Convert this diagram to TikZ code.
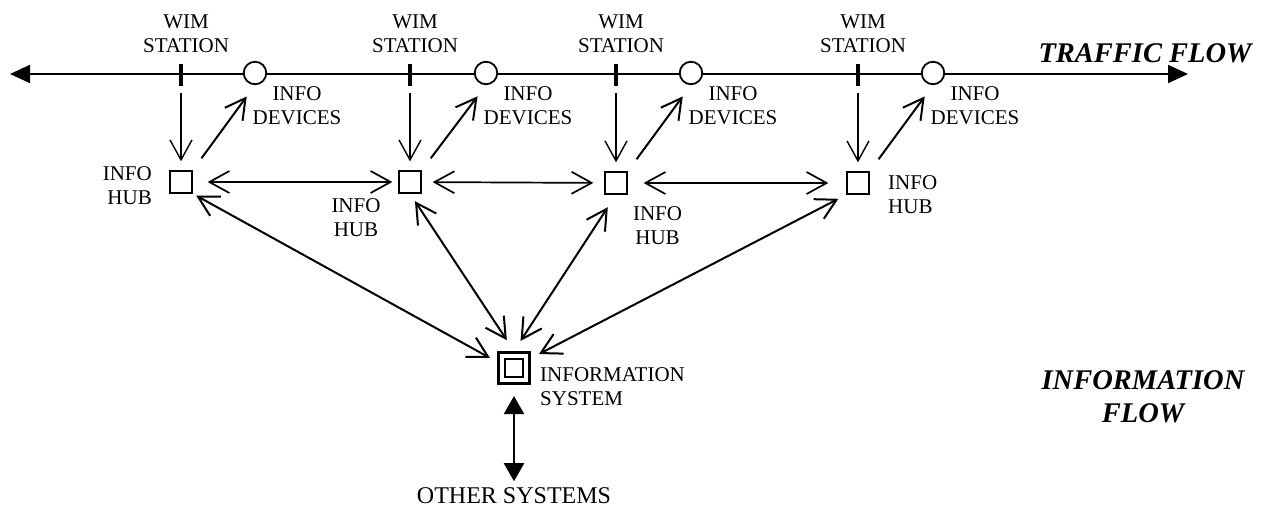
\documentclass[tikz,border=0pt]{standalone}
\usepackage{fontspec}
\setmainfont{Liberation Serif}
\usetikzlibrary{arrows.meta}

\begin{document}
\begin{tikzpicture}[x=1pt,y=-1pt,
  lbl/.style={font=\fontsize{21}{24}\selectfont, align=center, inner sep=0pt},
  bigit/.style={font=\fontsize{28.5}{33}\selectfont\bfseries\itshape, align=center, inner sep=0pt},
  hub/.style={draw, line width=1.8pt, minimum size=21.5pt, inner sep=0pt},
  dev/.style={draw, circle, line width=1.8pt, minimum size=22.5pt, inner sep=0pt, fill=white},
  wimbar/.style={fill, minimum width=4.5pt, minimum height=22pt, inner sep=0pt},
  road/.style={line width=1.8pt, {Triangle[length=20pt,width=18pt]}-{Triangle[length=20pt,width=18pt]}},
  feed/.style={line width=1.4pt, -{Straight Barb[length=20pt,width=22pt]}},
  push/.style={line width=2pt, -{Straight Barb[length=20pt,width=22pt]}},
  link/.style={line width=1.7pt, {Straight Barb[length=20pt,width=22pt]}-{Straight Barb[length=20pt,width=22pt]}},
  syslink/.style={line width=2pt, {Straight Barb[length=20pt,width=22pt]}-{Straight Barb[length=20pt,width=22pt]}},
  outlink/.style={line width=2pt, {Triangle[length=18pt,width=20pt]}-{Triangle[length=18pt,width=20pt]}}
]
\useasboundingbox (0,0) rectangle (1263,515);

% roadway with traffic direction
\coordinate (roadL) at (10,74);
\coordinate (roadR) at (1188,74);
\draw[road] (roadL) -- (roadR);
\node[bigit, anchor=base] (traffic) at (1145,62) {TRAFFIC FLOW};

% WIM stations, info devices and info hubs
\foreach \i/\s/\c/\hy in {1/181/255/182, 2/410/486/182, 3/616/691/183, 4/858/933/183}{
  \node[wimbar] (w\i) at (\s,75) {};
  \node[lbl] (wl\i) at (\s+5,33.5) {WIM\\STATION};
  \node[dev] (c\i) at (\c,73) {};
  \node[lbl] (cl\i) at (\c+42,106) {INFO\\DEVICES};
  \node[hub] (h\i) at (\s,\hy) {};
  \draw[feed, shorten <=7pt, shorten >=9pt] (w\i.south) -- (h\i.north);
  \draw[push, shorten <=15pt, shorten >=14pt] (h\i.north east) -- (c\i.south);
}

% hub labels
\node[lbl, align=right, anchor=east] (hl1) at (152,186) {INFO\\HUB};
\node[lbl] (hl2) at (356,217.5) {INFO\\HUB};
\node[lbl] (hl3) at (657.5,225.5) {INFO\\HUB};
\node[lbl, align=left, anchor=west] (hl4) at (888,194.5) {INFO\\HUB};

% links between neighbouring hubs
\draw[link, shorten <=15pt, shorten >=6pt] (h1) -- (h2);
\draw[link, shorten <=11pt, shorten >=11pt] (h2) -- (h3);
\draw[link, shorten <=16pt, shorten >=18pt] (h3) -- (h4);

% information system
\node[draw, line width=2.6pt, minimum size=31.5pt, inner sep=0pt] (sys) at (514,368) {};
\node[draw, line width=2.4pt, minimum size=17.5pt, inner sep=0pt] (sysin) at (sys.center) {};
\node[lbl, align=left, anchor=west] (sysl) at (540,387) {INFORMATION\\SYSTEM};

% hub to information system links
\draw[syslink, shorten <=4pt, shorten >=8pt] (h1.south east) -- (sys.160);
\draw[syslink, shorten <=9pt, shorten >=13pt] (h2.south) -- (sys.north);
\draw[syslink, shorten <=15pt, shorten >=12pt] (h3.south) -- (sys.north);
\draw[syslink, shorten <=9pt, shorten >=9pt] (h4.south west) -- (sys.30);

% external systems
\node[font=\fontsize{24}{26}\selectfont, inner sep=0pt] (oth) at (514,495.5) {OTHER SYSTEMS};
\draw[outlink, shorten <=11pt, shorten >=6pt] (sys.south) -- (oth.north);

\node[bigit] (infoflow) at (1143,396.5) {INFORMATION\\FLOW};
\end{tikzpicture}
\end{document}
